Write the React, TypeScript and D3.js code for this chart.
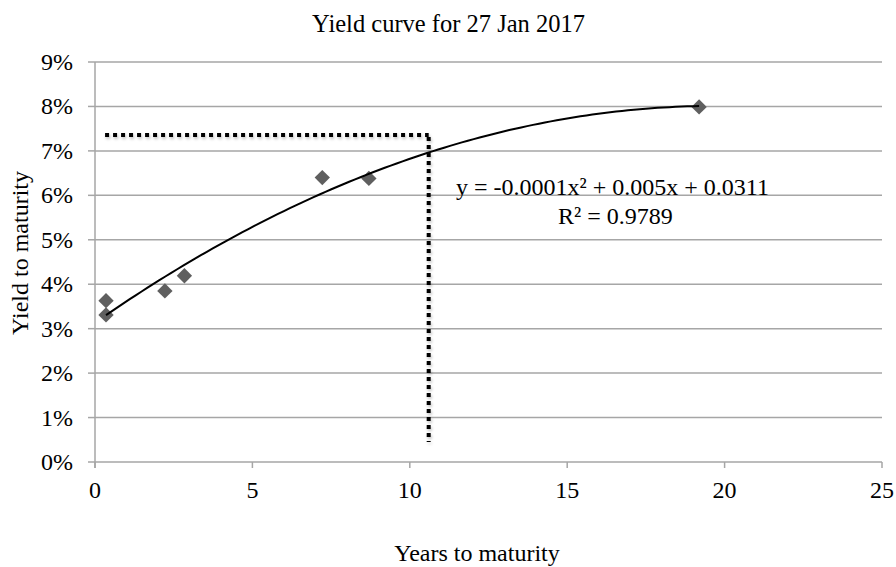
import React from "react";
import * as d3 from "d3";

const maturities = [0.35, 0.35, 2.22, 2.84, 7.22, 8.7, 19.19];
const yields = [0.0363, 0.0331, 0.0385, 0.0419, 0.064, 0.0638, 0.0799];
const xTicks = [0, 5, 10, 15, 20, 25];
const yTicks = [0, 0.01, 0.02, 0.03, 0.04, 0.05, 0.06, 0.07, 0.08, 0.09];
const annotYield = 0.0736;
const annotMaturity = 10.6;
const annotXStart = 0.32;
const annotYEnd = 0.0045;
const titleText = "Yield curve for 27 Jan 2017";
const xTitle = "Years to maturity";
const yTitle = "Yield to maturity";
const eqText = "y = -0.0001x² + 0.005x + 0.0311";
const r2Text = "R² = 0.9789";

function fitQuadratic(xs: number[], ys: number[]) {
  const S = [0, 0, 0, 0, 0];
  const T = [0, 0, 0];
  xs.forEach((x, i) => {
    for (let k = 0; k < 5; k++) S[k] += Math.pow(x, k);
    for (let k = 0; k < 3; k++) T[k] += Math.pow(x, k) * ys[i];
  });
  const M = [
    [S[0], S[1], S[2], T[0]],
    [S[1], S[2], S[3], T[1]],
    [S[2], S[3], S[4], T[2]],
  ];
  for (let i = 0; i < 3; i++) {
    let p = i;
    for (let r = i + 1; r < 3; r++) if (Math.abs(M[r][i]) > Math.abs(M[p][i])) p = r;
    [M[i], M[p]] = [M[p], M[i]];
    for (let r = 0; r < 3; r++) {
      if (r === i) continue;
      const f = M[r][i] / M[i][i];
      for (let c = i; c < 4; c++) M[r][c] -= f * M[i][c];
    }
  }
  const c = M[0][3] / M[0][0];
  const b = M[1][3] / M[1][1];
  const a = M[2][3] / M[2][2];
  return (x: number) => a * x * x + b * x + c;
}

export default function App() {
  const W = 896;
  const H = 567;
  const x = d3.scaleLinear().domain([0, 25]).range([95, 882]);
  const y = d3.scaleLinear().domain([0, 0.09]).range([462, 62]);
  const f = fitQuadratic(maturities, yields);
  const xmin = d3.min(maturities) as number;
  const xmax = d3.max(maturities) as number;
  const curvePts = d3.range(0, 101).map((i) => {
    const t = xmin + ((xmax - xmin) * i) / 100;
    return [t, f(t)] as [number, number];
  });
  const line = d3
    .line<[number, number]>()
    .x((d) => x(d[0]))
    .y((d) => y(d[1]));
  const grid = "#a6a6a6";
  const font = "Liberation Serif, serif";
  const fs = 24;
  const diamond = d3.symbol().type(d3.symbolDiamond2).size(150)();
  const T = (props: any) => <text fontFamily={font} fill="#000" {...props} />;

  return (
    <svg
      width={W}
      height={H}
      style={{ position: "absolute", left: 0, top: 0, background: "#fff" }}
    >
      <defs>
        <filter id="sh" x="-20%" y="-20%" width="140%" height="140%">
          <feGaussianBlur in="SourceAlpha" stdDeviation="1.5" />
          <feOffset dx="1" dy="2" result="b" />
          <feComponentTransfer>
            <feFuncA type="linear" slope="0.25" />
          </feComponentTransfer>
          <feMerge>
            <feMergeNode />
            <feMergeNode in="SourceGraphic" />
          </feMerge>
        </filter>
      </defs>
      <rect width={W} height={H} fill="#fff" />
      {yTicks.map((t) => (
        <g key={"g" + t}>
          {t > 0 && (
            <line x1={x(0)} x2={x(25)} y1={y(t)} y2={y(t)} stroke={grid} strokeWidth={1.5} />
          )}
          <line x1={x(0) - 7} x2={x(0)} y1={y(t)} y2={y(t)} stroke={grid} strokeWidth={1.5} />
          <T x={73} y={y(t) + 8} textAnchor="end" fontSize={fs}>
            {Math.round(t * 100) + "%"}
          </T>
        </g>
      ))}
      <line x1={x(0)} x2={x(0)} y1={y(0.09)} y2={y(0) + 6} stroke={grid} strokeWidth={1.5} />
      <line x1={x(0)} x2={x(25)} y1={y(0)} y2={y(0)} stroke={grid} strokeWidth={1.5} />
      {xTicks.map((t) => (
        <g key={"x" + t}>
          <line x1={x(t)} x2={x(t)} y1={y(0)} y2={y(0) + 6} stroke={grid} strokeWidth={1.5} />
          <T x={x(t)} y={498} textAnchor="middle" fontSize={fs}>
            {t}
          </T>
        </g>
      ))}
      <g filter="url(#sh)">
        <line
          x1={x(annotXStart)}
          x2={x(annotMaturity)}
          y1={y(annotYield)}
          y2={y(annotYield)}
          stroke="#000"
          strokeWidth={4}
          strokeDasharray="4 4"
        />
        <line
          x1={x(annotMaturity)}
          x2={x(annotMaturity)}
          y1={y(annotYield) + 2}
          y2={y(annotYEnd)}
          stroke="#000"
          strokeWidth={4}
          strokeDasharray="4 4"
        />
      </g>
      {maturities.map((m, i) => (
        <path
          key={"p" + i}
          d={diamond as string}
          transform={`translate(${x(m)},${y(yields[i])})`}
          fill="#5f5f5f"
        />
      ))}
      <path d={line(curvePts) as string} fill="none" stroke="#000" strokeWidth={2} />
      <T x={456} y={195} fontSize={fs}>
        {eqText}
      </T>
      <T x={558} y={224} fontSize={fs}>
        {r2Text}
      </T>
      <T x={448.5} y={32} textAnchor="middle" fontSize={24.5}>
        {titleText}
      </T>
      <T x={477} y={561} textAnchor="middle" fontSize={fs}>
        {xTitle}
      </T>
      <T transform="translate(28,253) rotate(-90)" textAnchor="middle" fontSize={fs}>
        {yTitle}
      </T>
    </svg>
  );
}
